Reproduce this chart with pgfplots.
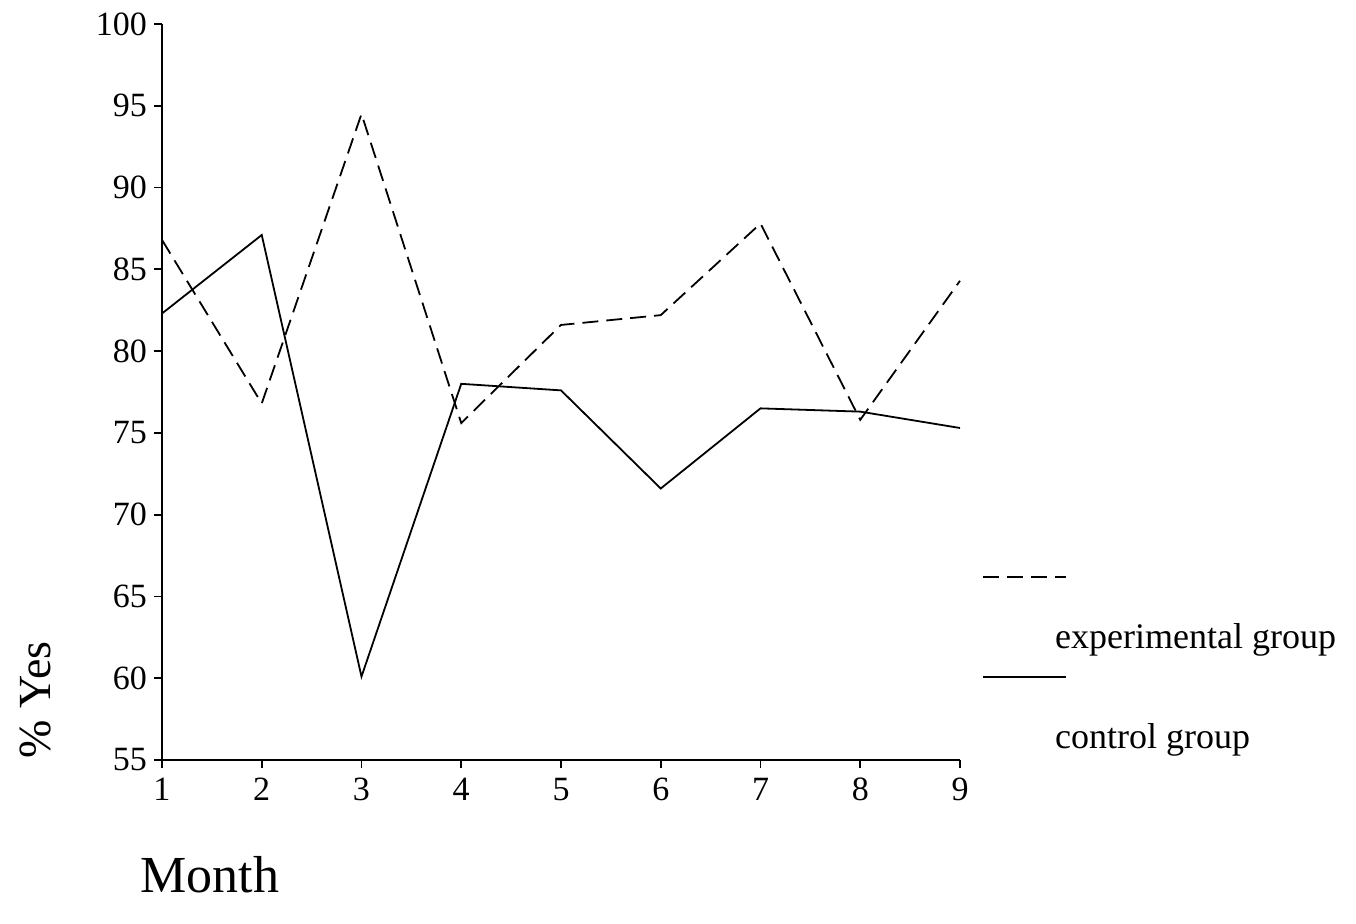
\documentclass[border=0pt]{standalone}
\usepackage{pgfplots}
\pgfplotsset{compat=1.18}
\usepackage{fontspec}
\setmainfont{Liberation Serif}
\begin{document}
\begin{tikzpicture}[x=1pt,y=1pt]
\begin{axis}[
  at={(0,0)}, anchor=south west,
  scale only axis, width=399pt, height=368pt,
  xmin=1, xmax=9, ymin=55, ymax=100,
  axis x line*=bottom, axis y line*=left,
  axis line style={line width=0.9pt, -},
  xtick={1,...,9}, ytick={55,60,...,100},
  tick style={line width=0.9pt, black},
  tick align=outside, major tick length=4pt,
  tick label style={font=\fontsize{17}{19}\selectfont},
  /pgf/number format/assume math mode=true,
  xticklabel style={text height=11.5pt, text depth=0pt, yshift=-1pt},
  legend style={draw=none, fill=none, inner sep=0pt, at={(axis description cs:1.1165,0.099)}, anchor=west,
    nodes={inner sep=0pt, font=\fontsize{18}{20}\selectfont}, row sep=36pt, column sep=0pt},
  legend cell align=left,
  legend image code/.code={\path (0pt,0pt); \draw[#1,overlay] (-35.5pt,30pt) -- (6pt,30pt);},
  clip=false,
]
\addplot[black, line width=0.9pt, dash pattern=on 8pt off 4pt] coordinates {
(1,86.8) (2,76.8) (3,94.5) (4,75.6) (5,81.6) (6,82.2) (7,87.8) (8,75.8) (9,84.3)};
\addlegendentry{experimental group}
\addplot[black, line width=0.9pt] coordinates {
(1,82.3) (2,87.1) (3,60.1) (4,78.0) (5,77.6) (6,71.6) (7,76.5) (8,76.3) (9,75.3)};
\addlegendentry{control group}
\node[rotate=90, font=\fontsize{23}{26}\selectfont] at (axis description cs:-0.159,0.0815) {\% Yes};
\node[font=\fontsize{26}{28}\selectfont] at (axis description cs:0.06,-0.156) {Month};
\end{axis}
\path (-81,-81.5) rectangle (597,380);
\end{tikzpicture}
\end{document}
